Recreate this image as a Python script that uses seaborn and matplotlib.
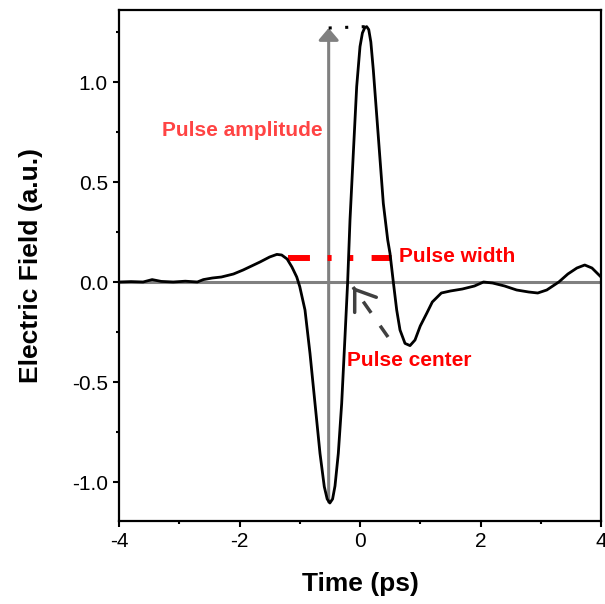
import numpy as np
import pandas as pd
import matplotlib
matplotlib.use("Agg")
import matplotlib.pyplot as plt
import seaborn as sns
from matplotlib.ticker import MultipleLocator, FixedLocator

# ---- data ----
time_ps = [-4.0, -3.8, -3.6, -3.45, -3.3, -3.1, -2.9, -2.7, -2.6, -2.45, -2.3,
           -2.1, -1.94, -1.8, -1.66, -1.5, -1.38, -1.3, -1.21, -1.13, -1.05,
           -1.0, -0.913, -0.83, -0.747, -0.664, -0.593, -0.545, -0.5, -0.455, -0.415,
           -0.36, -0.304, -0.249, -0.205, -0.166, -0.111, -0.055, 0.0, 0.04, 0.08,
           0.111, 0.145, 0.18, 0.221, 0.304, 0.387, 0.46, 0.498, 0.553, 0.609, 0.664,
           0.747, 0.83, 0.913, 1.0, 1.11, 1.2, 1.35, 1.5, 1.7, 1.9, 2.05,
           2.2, 2.4, 2.6, 2.8, 2.95, 3.1, 3.3, 3.45, 3.6, 3.73, 3.85, 4.0]
field_au = [0.0, 0.002, 0.0, 0.012, 0.003, 0.0, 0.004, 0.0, 0.012, 0.02, 0.025,
            0.04, 0.06, 0.08, 0.10, 0.125, 0.138, 0.135, 0.115, 0.075, 0.025,
            -0.023, -0.14, -0.357, -0.607, -0.857, -1.023, -1.085, -1.105, -1.085, -1.02,
            -0.857, -0.607, -0.273, 0.0, 0.31, 0.643, 0.977, 1.177, 1.245, 1.272,
            1.277, 1.262, 1.2, 1.06, 0.727, 0.393, 0.21, 0.143, 0.0, -0.14, -0.24,
            -0.307, -0.318, -0.29, -0.22, -0.155, -0.1, -0.055, -0.045, -0.035, -0.02, 0.0,
            -0.005, -0.02, -0.04, -0.05, -0.055, -0.04, 0.0, 0.04, 0.07, 0.085, 0.07, 0.025]

x_ticks = [-4, -2, 0, 2, 4]
x_tick_labels = ["-4", "-2", "0", "2", "4"]
y_ticks = [-1.0, -0.5, 0.0, 0.5, 1.0]
y_tick_labels = ["-1.0", "-0.5", "0.0", "0.5", "1.0"]

# annotation anchors (data units)
amp_x = -0.52
amp_bottom, amp_top = -1.1, 1.27
peak_x, peak_y = 0.111, 1.277
width_y = 0.12
width_left, width_right = -1.19, 0.526
center_tip = (-0.116, -0.025)
center_tail = (0.465, -0.275)

sns.set_style("ticks")
plt.rcParams["font.family"] = ["Liberation Sans", "DejaVu Sans"]
plt.rcParams["lines.scale_dashes"] = False
plt.rcParams["text.color"] = "black"
plt.rcParams["axes.labelcolor"] = "black"
plt.rcParams["xtick.color"] = "black"
plt.rcParams["ytick.color"] = "black"

df = pd.DataFrame({"t": time_ps, "E": field_au})

fig = plt.figure(figsize=(6.05, 6.04), dpi=100)
ax = fig.add_axes([119 / 605, 1 - 521 / 604, (601 - 119) / 605, (521 - 10) / 604])

# zero line
ax.axhline(0, color="#808080", lw=2.2, zorder=2)

# amplitude arrow
ax.annotate("", xy=(amp_x, amp_top), xytext=(amp_x, amp_bottom),
            arrowprops=dict(arrowstyle="-|>,head_length=7.2,head_width=6.1",
                            mutation_scale=1, color="#808080", lw=2.2,
                            shrinkA=0, shrinkB=0), zorder=2)
# dotted line from arrow tip to peak
ax.plot([amp_x, peak_x], [amp_top, peak_y], color="black", lw=2.2,
        dashes=(2.2, 9.7), dash_capstyle="butt", zorder=2)

# pulse width dashed red line
ax.plot([width_left, width_right], [width_y, width_y], color="#ff0000", lw=4.3,
        dashes=(15.8, 12.7, 2.9, 12.0, 3.6, 13.2, 14.4), dash_capstyle="butt", zorder=2)

# main curve
sns.lineplot(data=df, x="t", y="E", color="black", lw=2.0, ax=ax, zorder=3, sort=False)

# pulse center arrow: dashed shaft + solid open head
ax.plot([center_tail[0], center_tip[0]], [center_tail[1], center_tip[1]],
        color="#404040", lw=2.5, dashes=(9.9, 11.3), dash_capstyle="butt", zorder=4)
dx = center_tip[0] - center_tail[0]
dy = center_tip[1] - center_tail[1]
ax.annotate("", xy=center_tip, xytext=(center_tip[0] - 0.05 * dx, center_tip[1] - 0.05 * dy),
            arrowprops=dict(arrowstyle="->,head_length=13.5,head_width=9.5",
                            mutation_scale=1, color="#404040", lw=2.5,
                            shrinkA=0, shrinkB=0), zorder=4)

# texts
ax.text(-3.286, 0.76, "Pulse amplitude", color="#ff4444", fontsize=15,
        fontweight="bold", ha="left", va="center")
ax.text(0.647, 0.13, "Pulse width", color="#ff0000", fontsize=15,
        fontweight="bold", ha="left", va="center")
ax.text(-0.216, -0.395, "Pulse center", color="#ff0000", fontsize=15,
        fontweight="bold", ha="left", va="center")

ax.set_xlim(-4, 4)
ax.set_ylim(-1.195, 1.36)
ax.xaxis.set_major_locator(FixedLocator(x_ticks))
ax.set_xticklabels(x_tick_labels)
ax.yaxis.set_major_locator(FixedLocator(y_ticks))
ax.set_yticklabels(y_tick_labels)
ax.xaxis.set_minor_locator(MultipleLocator(1))
ax.yaxis.set_minor_locator(MultipleLocator(0.25))
ax.tick_params(which="major", direction="out", length=4, width=1.5, labelsize=15,
               colors="black", pad=4)
ax.tick_params(which="minor", direction="out", length=2.5, width=1.5)

for s in ax.spines.values():
    s.set_visible(True)
    s.set_linewidth(1.6)
    s.set_color("black")

ax.set_xlabel("Time (ps)", fontsize=19, fontweight="bold", labelpad=15)
ax.set_ylabel("Electric Field (a.u.)", fontsize=19, fontweight="bold", labelpad=21)

fig.savefig("out.png", dpi=100)
